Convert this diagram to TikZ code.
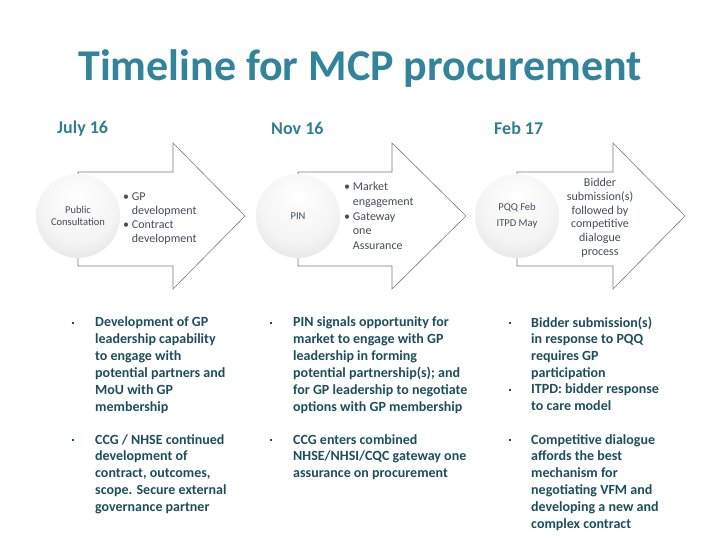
\documentclass[tikz,border=0pt]{standalone}
\usepackage{fontspec}
\setmainfont{Carlito}
\definecolor{titleteal}{HTML}{31849B}
\definecolor{headteal}{HTML}{2F7F8F}
\definecolor{bodyteal}{HTML}{1E4D5B}
\definecolor{greytext}{HTML}{474C57}
\definecolor{outline}{HTML}{7A7A7A}
\pgfdeclareradialshading{discshade}{\pgfpoint{0bp}{12bp}}{color(0bp)=(white); color(22bp)=(black!4); color(45bp)=(black!16); color(62bp)=(black!32)}
\tikzset{
  arrowshape/.style={draw=outline, line width=0.6pt, fill=white, line join=miter},
  disc/.style={circle, minimum size=84pt, inner sep=0pt, shading=discshade, font=\fontsize{10.5}{12.5}\selectfont, text=greytext, align=center},
  arrowtext/.style={anchor=north west, inner sep=0pt, font=\fontsize{12}{13.7}\selectfont, text=greytext, align=left},
  heading/.style={anchor=base west, inner sep=0pt, font=\fontsize{18}{20}\selectfont\bfseries, text=headteal},
  bodytext/.style={anchor=north west, inner sep=0pt, font=\fontsize{14}{16.9}\selectfont\bfseries, text=bodyteal, align=left},
  bul/.style={rectangle, fill=bodyteal, inner sep=0pt, minimum size=2.7pt}
}
\begin{document}
\begin{tikzpicture}[x=1pt,y=-1pt]
\useasboundingbox (0,0) rectangle (720,540);
% title
\node[inner sep=0pt, font=\fontsize{44}{48}\selectfont\bfseries, text=titleteal] (title) at (360,69) {Timeline for MCP procurement};
% headings
\node[heading] (h1) at (57,134) {July 16};
\node[heading] (h2) at (271,135) {Nov 16};
\node[heading] (h3) at (494,135) {Feb 17};
% arrows
\draw[arrowshape] (78,172) -- (173,172) -- (173,143) -- (245,216) -- (173,289) -- (173,266) -- (78,266) -- cycle;
\draw[arrowshape] (298,172) -- (392,172) -- (392,143) -- (466,216) -- (392,289) -- (392,266) -- (298,266) -- cycle;
\draw[arrowshape] (517,172) -- (613,172) -- (613,143) -- (685,216) -- (613,289) -- (613,266) -- (517,266) -- cycle;
% circles
\node[disc] (c1) at (78,216) {Public\\Consultation};
\node[disc] (c2) at (298,216) {PIN};
\node[disc, font=\fontsize{10.5}{16}\selectfont] (c3) at (517,216) {PQQ Feb\\ITPD May};
% arrow texts
\node[arrowtext] (a1) at (123,193) {\textbullet\ GP\\\hphantom{\textbullet\ }development\\\textbullet\ Contract\\\hphantom{\textbullet\ }development};
\node[arrowtext, font=\fontsize{12}{14.8}\selectfont] (a2) at (344,182) {\textbullet\ Market\\\hphantom{\textbullet\ }engagement\\\textbullet\ Gateway\\\hphantom{\textbullet\ }one\\\hphantom{\textbullet\ }Assurance};
\node[arrowtext, anchor=north, align=center, font=\fontsize{12}{13.8}\selectfont] (a3) at (600,178) {Bidder\\submission(s)\\followed by\\competitive\\dialogue\\process};
% column 1
\node[bul] (b11) at (73,323) {};
\node[bodytext] (t11) at (95,316.5) {Development of GP\\leadership capability\\to engage with\\potential partners and\\MoU with GP\\membership};
\node[bul] (b12) at (73,440) {};
\node[bodytext] (t12) at (95,434) {CCG / NHSE continued\\development of\\contract, outcomes,\\scope. Secure external\\governance partner};
% column 2
\node[bul] (b21) at (271,323) {};
\node[bodytext] (t21) at (293,316.5) {PIN signals opportunity for\\market to engage with GP\\leadership in forming\\potential partnership(s); and\\for GP leadership to negotiate\\options with GP membership};
\node[bul] (b22) at (271,440) {};
\node[bodytext] (t22) at (293,434) {CCG enters combined\\NHSE/NHSI/CQC gateway one\\assurance on procurement};
% column 3
\node[bul] (b31) at (510,323) {};
\node[bodytext] (t31) at (531,316.5) {Bidder submission(s)\\in response to PQQ\\requires GP\\participation};
\node[bul] (b32) at (510,390) {};
\node[bodytext] (t32) at (531,383.5) {ITPD: bidder response\\to care model};
\node[bul] (b33) at (510,440) {};
\node[bodytext] (t33) at (531,434) {Competitive dialogue\\affords the best\\mechanism for\\negotiating VFM and\\developing a new and\\complex contract};
\end{tikzpicture}
\end{document}
